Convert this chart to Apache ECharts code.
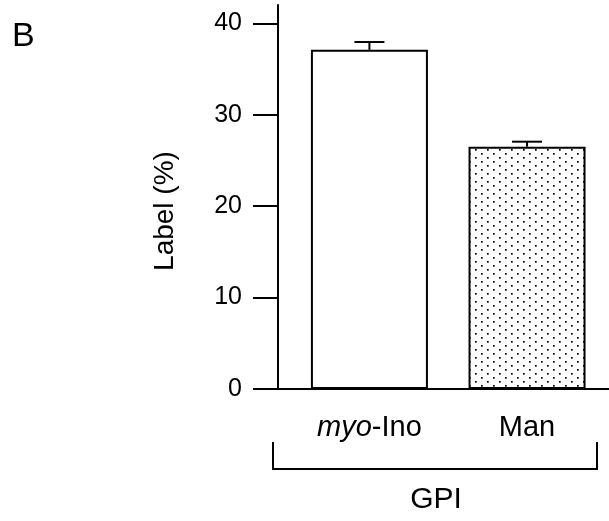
<!DOCTYPE html>
<html>
<head>
<meta charset="utf-8">
<script src="https://cdn.jsdelivr.net/npm/echarts@6/dist/echarts.min.js"></script>
<style>
  html, body { margin: 0; padding: 0; background: #fff; }
  #chart { width: 609px; height: 521px; }
</style>
</head>
<body>
<div id="chart"></div>
<script>
// data
const categories = ['myo-Ino', 'Man'];
const positions = [1, 2];
const means = [37.1, 26.5];
const sems = [0.85, 0.55];
const yTicks = [0, 10, 20, 30, 40];
const groupLabel = 'GPI';
const yName = 'Label (%)';
const panel = 'B';

const font = 'Liberation Sans, Arial, sans-serif';

// dotted fill for the second bar
function dots() {
  const c = document.createElement('canvas');
  c.width = 12; c.height = 8;
  const ctx = c.getContext('2d');
  ctx.fillStyle = '#fff';
  ctx.fillRect(0, 0, 12, 8);
  ctx.fillStyle = '#000';
  ctx.fillRect(1, 1, 1.7, 1.7);
  ctx.fillRect(7, 5, 1.7, 1.7);
  return c;
}
const fills = ['#fff', { image: dots(), repeat: 'repeat' }];

const barData = positions.map((x, i) => ({
  value: [x, means[i]],
  itemStyle: { color: fills[i] }
}));
const errData = positions.map((x, i) => [x, means[i], sems[i]]);

let myChart = echarts.init(document.getElementById('chart'));
myChart.setOption({
  animation: false,
  backgroundColor: '#fff',
  grid: { left: 278, right: 0, top: 5, bottom: 132 },
  xAxis: {
    type: 'value',
    min: 0.42,
    max: 2.52,
    splitLine: { show: false },
    axisLine: { lineStyle: { color: '#000', width: 2 } },
    axisTick: { show: false },
    axisLabel: {
      customValues: positions,
      margin: 24,
      fontSize: 29,
      color: '#000',
      fontFamily: font,
      formatter: function (v) {
        const name = categories[positions.indexOf(v)] || '';
        if (name.indexOf('myo-') === 0) return '{i|myo}-' + name.slice(4);
        return name;
      },
      rich: {
        i: { fontStyle: 'italic', fontSize: 29, color: '#000', fontFamily: font }
      }
    }
  },
  yAxis: {
    type: 'value',
    min: 0,
    max: 42,
    interval: 10,
    splitLine: { show: false },
    axisLine: { show: true, lineStyle: { color: '#000', width: 2 } },
    axisTick: { show: true, customValues: yTicks, length: 25, lineStyle: { color: '#000', width: 2 } },
    axisLabel: { customValues: yTicks, margin: 36, fontSize: 25, color: '#000', fontFamily: font }
  },
  series: [
    {
      type: 'bar',
      barWidth: 117,
      data: barData,
      itemStyle: { borderColor: '#000', borderWidth: 2 }
    },
    {
      type: 'custom',
      data: errData,
      z: 3,
      renderItem: function (params, api) {
        const x = api.value(0), m = api.value(1), e = api.value(2);
        const base = api.coord([x, m]);
        const top = api.coord([x, m + e]);
        const style = { stroke: '#000', lineWidth: 2 };
        return {
          type: 'group',
          children: [
            { type: 'line', shape: { x1: base[0], y1: base[1], x2: top[0], y2: top[1] }, style: style },
            { type: 'line', shape: { x1: top[0] - 15, y1: top[1], x2: top[0] + 15, y2: top[1] }, style: style }
          ]
        };
      }
    }
  ],
  graphic: [
    {
      type: 'text', left: 12, top: 20,
      style: { text: panel, fontSize: 34, fill: '#000', fontFamily: font }
    },
    {
      type: 'text', x: 165, y: 211, rotation: Math.PI / 2,
      style: { text: yName, fontSize: 28, fill: '#000', fontFamily: font, align: 'center', verticalAlign: 'middle' }
    },
    {
      type: 'polyline',
      shape: { points: [[273, 442], [273, 469], [597, 469], [597, 442]] },
      style: { stroke: '#000', lineWidth: 2, fill: null }
    },
    {
      type: 'text', x: 436, y: 500,
      style: { text: groupLabel, fontSize: 30, fill: '#000', fontFamily: font, align: 'center', verticalAlign: 'middle' }
    }
  ]
});
</script>
</body>
</html>
